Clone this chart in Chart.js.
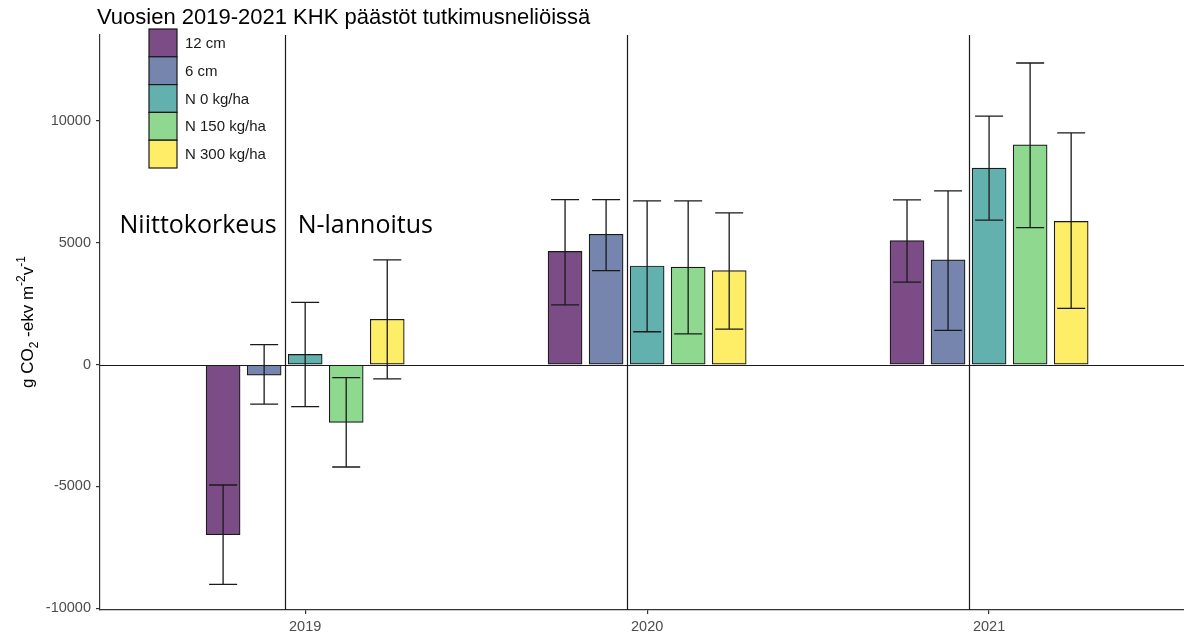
<!DOCTYPE html>
<html>
<head>
<meta charset="utf-8">
<script src="https://cdn.jsdelivr.net/npm/chart.js"></script>
<style>
  html, body { margin: 0; padding: 0; background: #fff; overflow: hidden; }
  canvas { display: block; }
</style>
</head>
<body>
<canvas id="chart" width="1184" height="636"></canvas>
<script>
// data
const years = [2019, 2020, 2021];
const seriesNames = ['12 cm', '6 cm', 'N 0 kg/ha', 'N 150 kg/ha', 'N 300 kg/ha'];

const mean12cm  = [-6980, 4650, 5090];
const mean6cm   = [-430, 5350, 4300];
const meanN0    = [420, 4050, 8070];
const meanN150  = [-2370, 4000, 9020];
const meanN300  = [1860, 3860, 5880];

const low12cm   = [-9020, 2450, 3390];
const low6cm    = [-1620, 3860, 1410];
const lowN0     = [-1720, 1350, 5930];
const lowN150   = [-4200, 1260, 5620];
const lowN300   = [-580, 1460, 2310];

const high12cm  = [-4940, 6770, 6760];
const high6cm   = [820, 6770, 7130];
const highN0    = [2560, 6720, 10200];
const highN150  = [-530, 6720, 12380];
const highN300  = [4300, 6230, 9510];

const yTicks = [-10000, -5000, 0, 5000, 10000];

const means = [mean12cm, mean6cm, meanN0, meanN150, meanN300];
const lows = [low12cm, low6cm, lowN0, lowN150, lowN300];
const highs = [high12cm, high6cm, highN0, highN150, highN300];

const colors = ['#7b4c86', '#7585ad', '#63b1ae', '#8fd890', '#feed66'];
const dodge = [-0.24, -0.12, 0, 0.12, 0.24];   // dodge positions within a year
const dividerShift = -0.06;                      // vertical lines sit a bit left of the tick
const FONT = '"Liberation Sans", Arial, sans-serif';
const INK = '#1a1a1a';

const datasets = seriesNames.map((name, k) => ({
  label: name,
  data: years.map((yr, i) => ({ x: yr + dodge[k], y: means[k][i] })),
  backgroundColor: colors[k],
  borderColor: INK,
  borderWidth: 1.2,
  borderSkipped: false,
  barThickness: 34,
  grouped: false,
  lows: lows[k],
  highs: highs[k]
}));

const refLines = {
  id: 'refLines',
  beforeDatasetsDraw(chart) {
    const { ctx, chartArea: a, scales: { x, y } } = chart;
    ctx.save();
    ctx.strokeStyle = INK;
    ctx.lineWidth = 1.2;
    ctx.beginPath();
    const y0 = Math.round(y.getPixelForValue(0)) + 0.5;
    ctx.moveTo(a.left, y0);
    ctx.lineTo(a.right, y0);
    years.forEach(yr => {
      const px = Math.round(x.getPixelForValue(yr + dividerShift)) + 0.5;
      ctx.moveTo(px, a.top);
      ctx.lineTo(px, a.bottom);
    });
    ctx.stroke();
    ctx.restore();
  }
};

const errorBars = {
  id: 'errorBars',
  afterDatasetsDraw(chart) {
    const { ctx, scales: { x, y } } = chart;
    ctx.save();
    ctx.strokeStyle = INK;
    ctx.lineWidth = 1.3;
    chart.data.datasets.forEach(ds => {
      ds.data.forEach((pt, i) => {
        const px = x.getPixelForValue(pt.x);
        const lo = y.getPixelForValue(ds.lows[i]);
        const hi = y.getPixelForValue(ds.highs[i]);
        const half = 14;
        ctx.beginPath();
        ctx.moveTo(px, lo); ctx.lineTo(px, hi);
        ctx.moveTo(px - half, lo); ctx.lineTo(px + half, lo);
        ctx.moveTo(px - half, hi); ctx.lineTo(px + half, hi);
        ctx.stroke();
      });
    });
    ctx.restore();
  }
};

const decorations = {
  id: 'decorations',
  afterDraw(chart) {
    const { ctx, scales: { x, y } } = chart;
    ctx.save();

    // title
    ctx.fillStyle = '#000';
    ctx.font = '22px ' + FONT;
    ctx.textAlign = 'left';
    ctx.textBaseline = 'alphabetic';
    ctx.fillText('Vuosien 2019-2021 KHK päästöt tutkimusneliöissä', 97, 24);

    // legend
    const keyH = 27.8;
    ctx.font = '15px ' + FONT;
    ctx.textBaseline = 'middle';
    seriesNames.forEach((name, k) => {
      const top = 29 + k * keyH;
      ctx.fillStyle = colors[k];
      ctx.fillRect(149, top, 28, keyH);
      ctx.strokeStyle = INK;
      ctx.lineWidth = 1.2;
      ctx.strokeRect(149, top, 28, keyH);
      ctx.fillStyle = INK;
      ctx.fillText(name, 185, top + keyH / 2 + 1);
    });

    // annotations either side of the 2019 divider
    const dx = x.getPixelForValue(years[0] + dividerShift);
    ctx.font = '25px "Open Sans", "Noto Sans", sans-serif';
    ctx.textBaseline = 'alphabetic';
    ctx.fillStyle = '#000';
    ctx.textAlign = 'right';
    ctx.fillText('Niittokorkeus', dx - 8, 233);
    ctx.textAlign = 'left';
    ctx.fillText('N-lannoitus', dx + 13, 233);

    // y axis title with sub/superscripts
    const big = '17px ' + FONT, small = '12px ' + FONT;
    const parts = [
      ['g CO', big, 0], ['2', small, 5], [' -ekv m', big, 0],
      ['-2', small, -8], ['v', big, 0], ['-1', small, -8]
    ];
    let total = 0;
    parts.forEach(p => { ctx.font = p[1]; total += ctx.measureText(p[0]).width; });
    ctx.translate(33, 322);
    ctx.rotate(-Math.PI / 2);
    ctx.textAlign = 'left';
    ctx.fillStyle = '#000';
    let cx = -total / 2;
    parts.forEach(p => {
      ctx.font = p[1];
      ctx.fillText(p[0], cx, p[2]);
      cx += ctx.measureText(p[0]).width;
    });
    ctx.restore();
  }
};

new Chart(document.getElementById('chart'), {
  type: 'bar',
  data: { datasets },
  options: {
    responsive: false,
    animation: false,
    layout: { padding: { top: 35, right: 0, left: 0, bottom: 0 } },
    plugins: { legend: { display: false }, tooltip: { enabled: false }, title: { display: false } },
    scales: {
      x: {
        type: 'linear',
        min: 2018.4,
        max: 2021.57,
        offset: false,
        afterBuildTicks: s => { s.ticks = years.map(v => ({ value: v })); },
        afterFit: s => { s.height = 26; },
        ticks: {
          color: '#4d4d4d',
          font: { family: FONT, size: 14.5 },
          padding: 4,
          callback: v => String(v)
        },
        grid: { offset: false, drawOnChartArea: false, drawTicks: true, tickLength: 4, color: '#333', lineWidth: 1.2 },
        border: { display: true, color: '#333', width: 1.2 }
      },
      y: {
        min: -10070,
        max: 13530,
        afterBuildTicks: s => { s.ticks = yTicks.map(v => ({ value: v })); },
        afterFit: s => { s.width = 100; },
        ticks: {
          color: '#4d4d4d',
          font: { family: FONT, size: 14.5 },
          padding: 5,
          callback: v => String(v)
        },
        grid: { drawOnChartArea: false, drawTicks: true, tickLength: 4, color: '#333', lineWidth: 1.2 },
        border: { display: true, color: '#333', width: 1.2 }
      }
    }
  },
  plugins: [refLines, errorBars, decorations]
});
</script>
</body>
</html>
